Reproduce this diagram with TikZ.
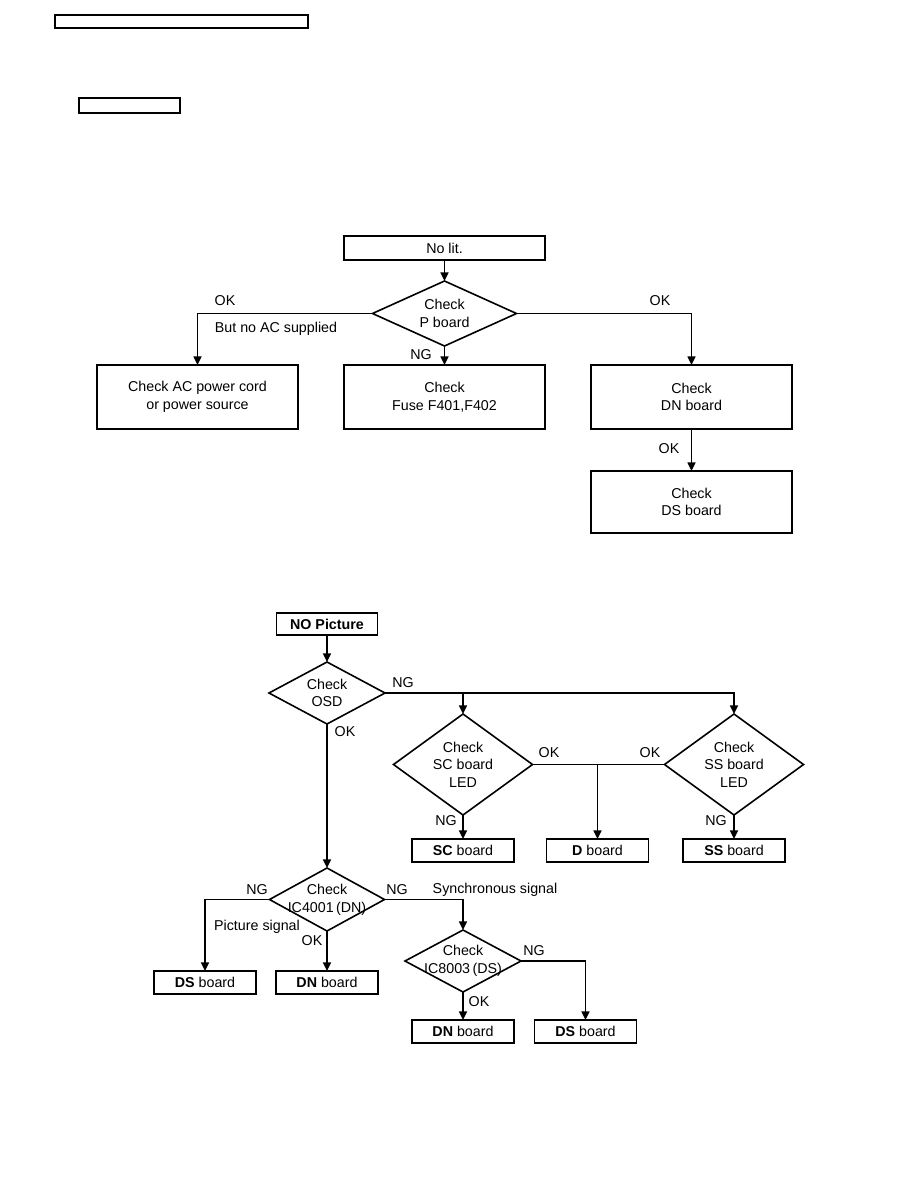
\documentclass[tikz,border=0pt]{standalone}
\usepackage{fontspec}
\setmainfont{Liberation Sans}
\usetikzlibrary{shapes.geometric,arrows.meta}
\begin{document}
\begin{tikzpicture}[x=0.75pt,y=-0.75pt,
  every node/.style={font=\fontsize{10.7}{13.2}\selectfont, inner sep=0pt, outer sep=0pt},
  bigbox/.style={draw, line width=1.2pt, minimum width=150.75pt, minimum height=48pt, align=center},
  smallbox/.style={draw, line width=1.2pt, minimum width=76.5pt, minimum height=17.25pt, align=center},
  dia/.style={draw, line width=1.2pt, shape=diamond},
  lbl/.style={align=center},
  arr/.style={line width=1.1pt, -{Triangle[length=6.5pt,width=6pt]}},
  ln/.style={line width=1.1pt}]
\useasboundingbox (0,0) rectangle (918,1188);
% header boxes
\node[draw, line width=1.2pt, minimum width=189.75pt, minimum height=9.75pt] (hdr) at (181.5,21.5) {};
\node[draw, line width=1.2pt, minimum width=75.75pt, minimum height=11.25pt] (sec) at (129.5,105.5) {};
% --- top chart
\node[bigbox, minimum height=18pt] (nolit) at (444.5,248) {No lit.};
\node[dia, minimum width=108pt, minimum height=48.75pt] (pd) at (444.5,313.5) {};
\node[lbl] (pdt) at (pd.center) {Check\\P board};
\node[bigbox] (ac) at (197.5,397) {Check AC power cord\\or power source};
\node[bigbox] (fuse) at (444.5,397) {Check\\Fuse F401,F402};
\node[bigbox] (dn1) at (691.5,397) {Check\\DN board};
\node[bigbox, minimum height=46.5pt] (ds1) at (691.5,502) {Check\\DS board};
\draw[arr] (nolit) -- (pd.north);
\draw[arr] (pd.west) -| (ac.north);
\draw[arr] (pd.east) -| (dn1.north);
\draw[arr] (pd.south) -- (fuse.north);
\draw[arr] (dn1.south) -- (ds1.north);
\node[lbl] (l1) at (225,301) {OK};
\node[lbl] (l2) at (276,329) {But no AC supplied};
\node[lbl] (l3) at (660,301) {OK};
\node[lbl] (l4) at (421,355) {NG};
\node[lbl] (l5) at (669,449) {OK};
% --- bottom chart
\node[smallbox, minimum width=75.75pt, minimum height=16.5pt, font=\fontsize{10.7}{13.2}\selectfont\bfseries] (nopic) at (327,624) {NO Picture};
\node[dia, minimum width=87pt, minimum height=46.5pt] (osd) at (327,693) {};
\node[lbl] (osdt) at (osd.center) {Check\\OSD};
\node[dia, minimum width=104.25pt, minimum height=75.75pt] (scd) at (463,764.5) {};
\node[lbl] (scdt) at (scd.center) {Check\\SC board\\LED};
\node[dia, minimum width=104.25pt, minimum height=75.75pt] (ssd) at (734,764.5) {};
\node[lbl] (ssdt) at (ssd.center) {Check\\SS board\\LED};
\node[smallbox] (scb) at (463,850.5) {\textbf{SC} board};
\node[smallbox] (db) at (597.5,850.5) {\textbf{D} board};
\node[smallbox] (ssb) at (734,850.5) {\textbf{SS} board};
\node[dia, minimum width=86.25pt, minimum height=47.25pt] (ic41) at (327,899.5) {};
\node[lbl] (ic41t) at (ic41.center) {Check\\IC4001\,(DN)};
\node[smallbox] (dsb1) at (205,982.5) {\textbf{DS} board};
\node[smallbox] (dnb1) at (327,982.5) {\textbf{DN} board};
\node[dia, minimum width=87pt, minimum height=46.5pt] (ic83) at (463,961) {};
\node[lbl] (ic83t) at (ic83.center) {Check\\IC8003\,(DS)};
\node[smallbox] (dnb2) at (463,1031.5) {\textbf{DN} board};
\node[smallbox] (dsb2) at (585.5,1031.5) {\textbf{DS} board};
\draw[arr] (nopic) -- (osd.north);
\draw[arr] (osd.east) -| (scd.north);
\draw[arr] (osd.east) -| (ssd.north);
\draw[ln] (scd.east) -- (ssd.west);
\draw[arr] (scd.east -| db.north) -- (db.north);
\draw[arr] (scd.south) -- (scb.north);
\draw[arr] (ssd.south) -- (ssb.north);
\draw[arr] (osd.south) -- (ic41.north);
\draw[arr] (ic41.west) -| (dsb1.north);
\draw[arr] (ic41.south) -- (dnb1.north);
\draw[arr] (ic41.east) -| (ic83.north);
\draw[arr] (ic83.east) -| (dsb2.north);
\draw[arr] (ic83.south) -- (dnb2.north);
\node[lbl] (m1) at (403,683) {NG};
\node[lbl] (m2) at (345,732) {OK};
\node[lbl] (m3) at (549,753) {OK};
\node[lbl] (m4) at (650,753) {OK};
\node[lbl] (m5) at (446,821) {NG};
\node[lbl] (m6) at (716,821) {NG};
\node[lbl] (m7) at (257,890) {NG};
\node[lbl] (m8) at (257,927) {Picture signal};
\node[lbl] (m9) at (312,941) {OK};
\node[lbl] (m10) at (397,890) {NG};
\node[lbl] (m11) at (495,890) {Synchronous signal};
\node[lbl] (m12) at (534,951) {NG};
\node[lbl] (m13) at (479,1002) {OK};
\end{tikzpicture}
\end{document}
